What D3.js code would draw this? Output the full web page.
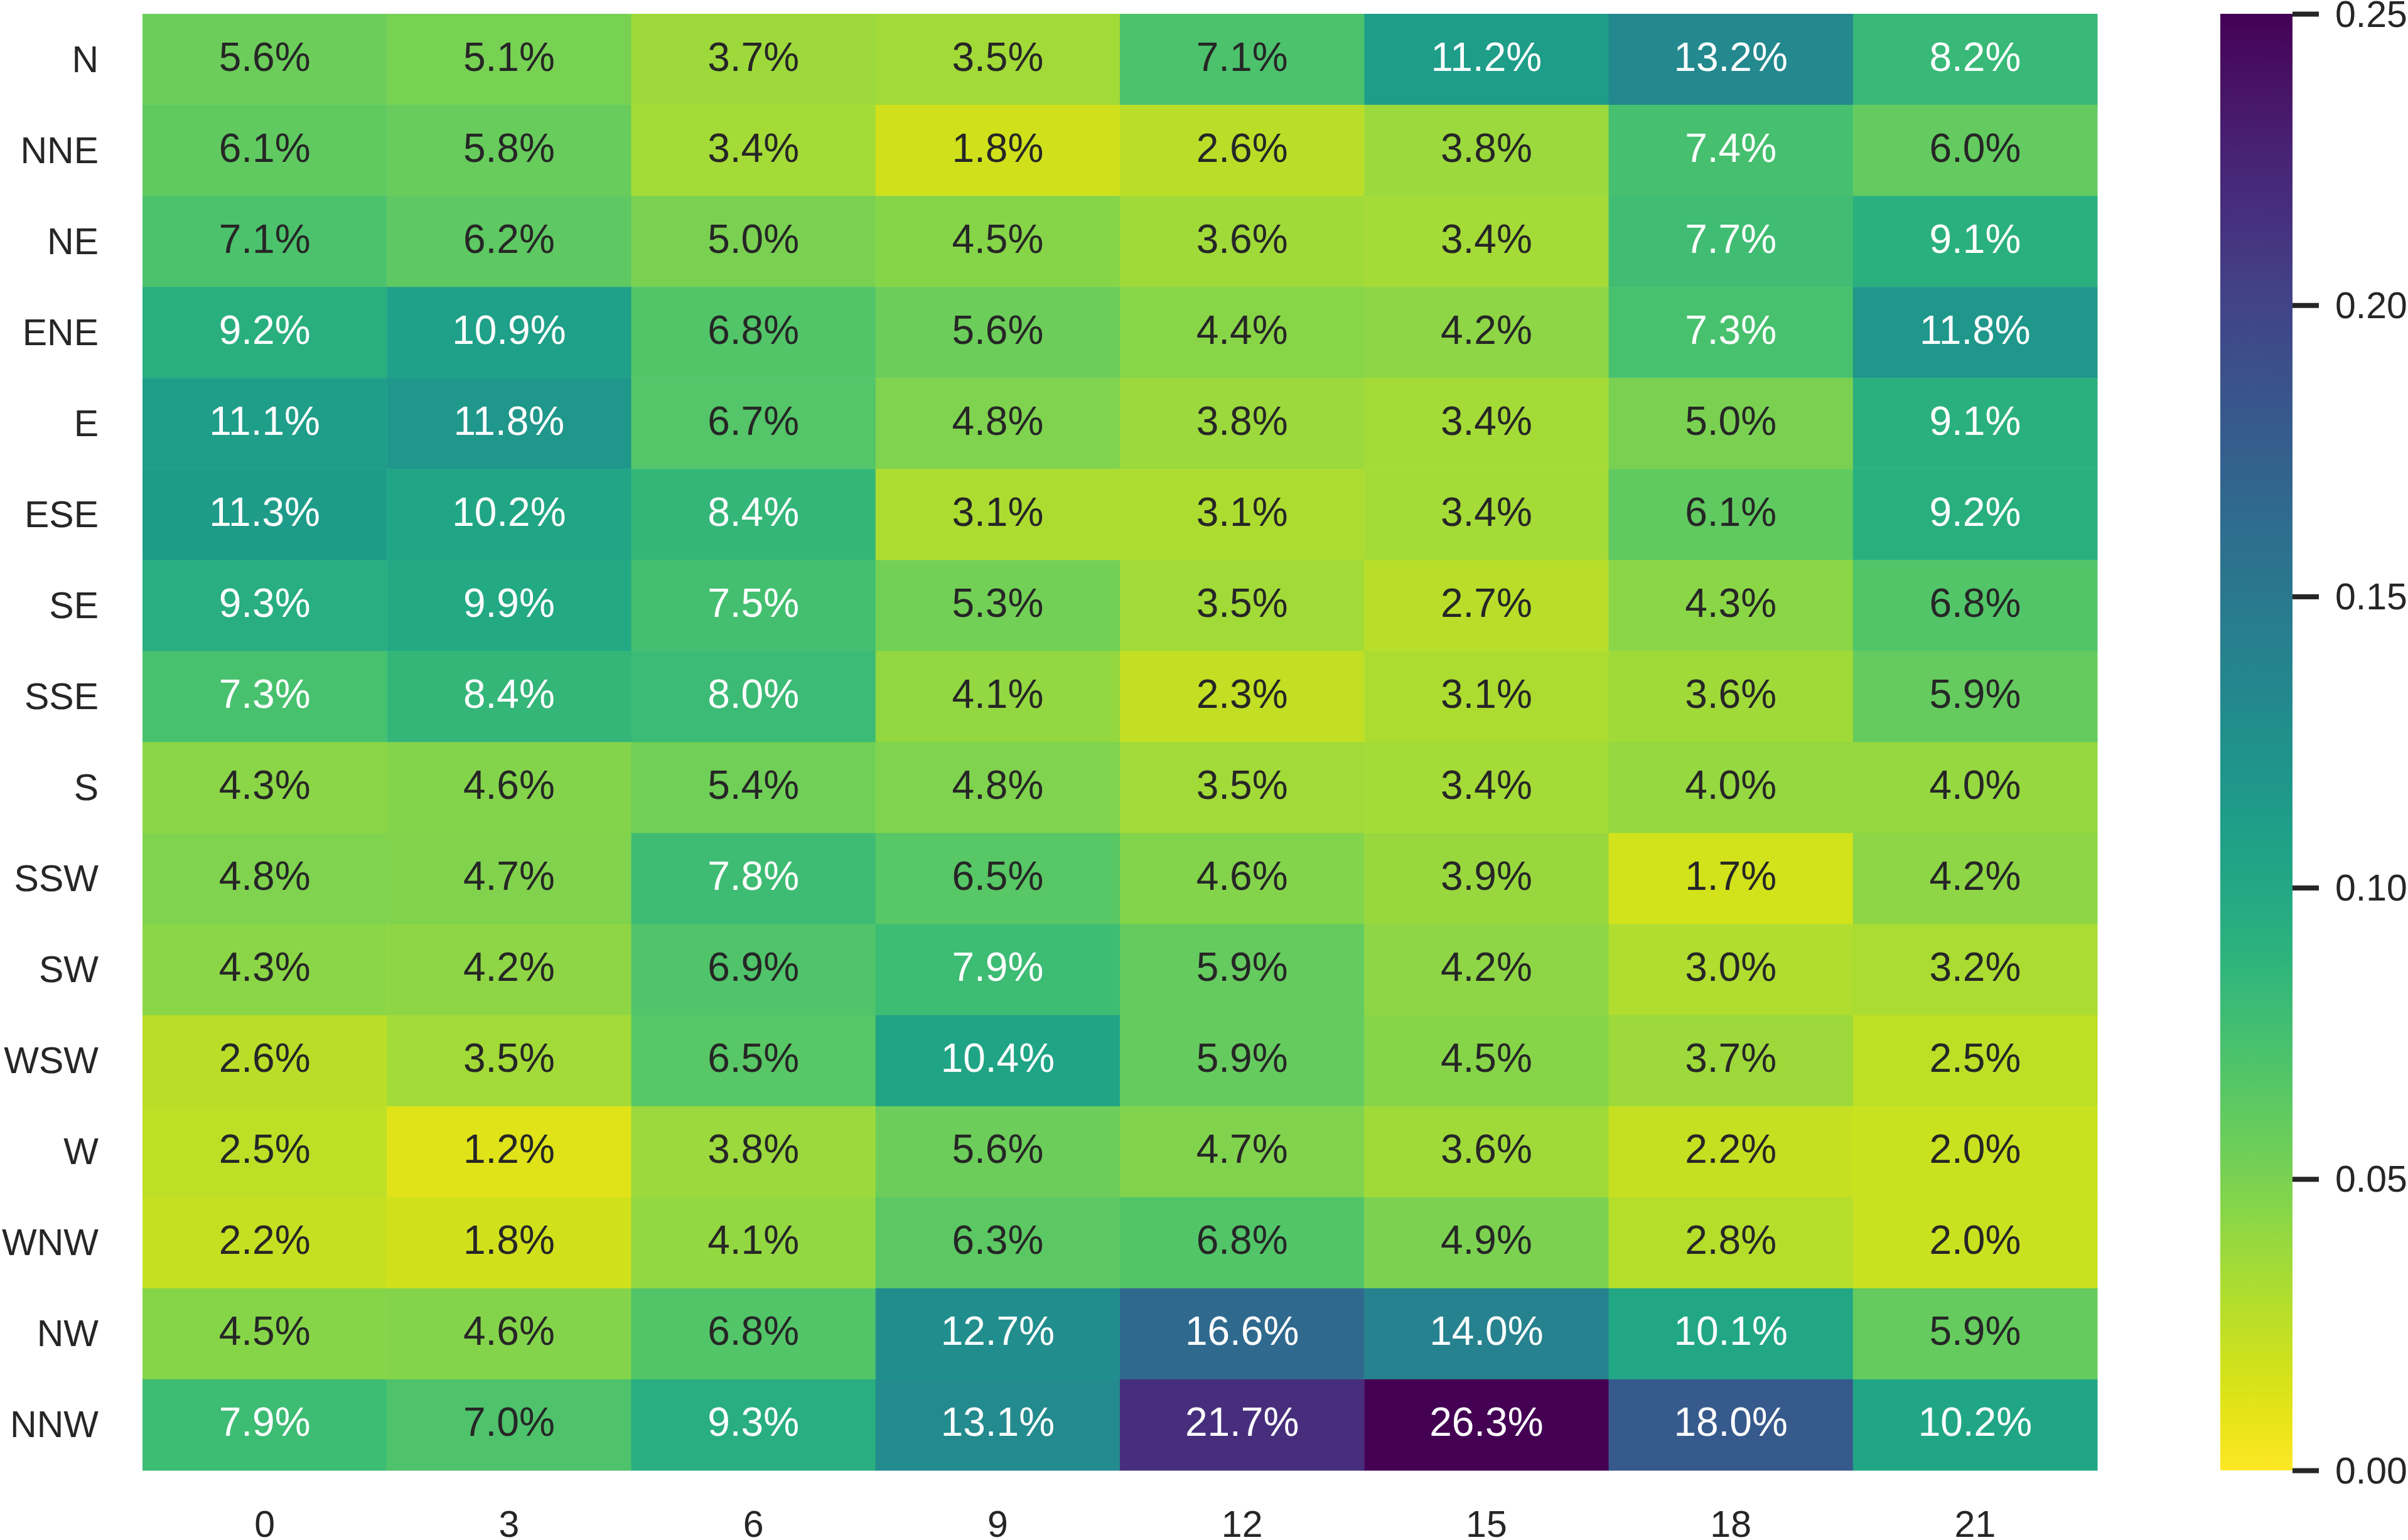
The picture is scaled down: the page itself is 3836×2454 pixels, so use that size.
<!DOCTYPE html>
<html>
<head>
<meta charset="utf-8">
<script src="https://cdn.jsdelivr.net/npm/d3@7"></script>
<style>
  html, body { margin: 0; padding: 0; background: #fff; }
  svg { display: block; font-family: "Liberation Sans", Arial, sans-serif; }
</style>
</head>
<body>
<svg id="chart" width="3836" height="2454"></svg>
<script>
// ---- data ----
const hours = ["0", "3", "6", "9", "12", "15", "18", "21"];
const directions = ["N", "NNE", "NE", "ENE", "E", "ESE", "SE", "SSE",
                    "S", "SSW", "SW", "WSW", "W", "WNW", "NW", "NNW"];
// percent values, one array per direction row, columns follow `hours`
const rowN   = [5.6, 5.1, 3.7, 3.5, 7.1, 11.2, 13.2, 8.2];
const rowNNE = [6.1, 5.8, 3.4, 1.8, 2.6, 3.8, 7.4, 6.0];
const rowNE  = [7.1, 6.2, 5.0, 4.5, 3.6, 3.4, 7.7, 9.1];
const rowENE = [9.2, 10.9, 6.8, 5.6, 4.4, 4.2, 7.3, 11.8];
const rowE   = [11.1, 11.8, 6.7, 4.8, 3.8, 3.4, 5.0, 9.1];
const rowESE = [11.3, 10.2, 8.4, 3.1, 3.1, 3.4, 6.1, 9.2];
const rowSE  = [9.3, 9.9, 7.5, 5.3, 3.5, 2.7, 4.3, 6.8];
const rowSSE = [7.3, 8.4, 8.0, 4.1, 2.3, 3.1, 3.6, 5.9];
const rowS   = [4.3, 4.6, 5.4, 4.8, 3.5, 3.4, 4.0, 4.0];
const rowSSW = [4.8, 4.7, 7.8, 6.5, 4.6, 3.9, 1.7, 4.2];
const rowSW  = [4.3, 4.2, 6.9, 7.9, 5.9, 4.2, 3.0, 3.2];
const rowWSW = [2.6, 3.5, 6.5, 10.4, 5.9, 4.5, 3.7, 2.5];
const rowW   = [2.5, 1.2, 3.8, 5.6, 4.7, 3.6, 2.2, 2.0];
const rowWNW = [2.2, 1.8, 4.1, 6.3, 6.8, 4.9, 2.8, 2.0];
const rowNW  = [4.5, 4.6, 6.8, 12.7, 16.6, 14.0, 10.1, 5.9];
const rowNNW = [7.9, 7.0, 9.3, 13.1, 21.7, 26.3, 18.0, 10.2];
const rows = [rowN, rowNNE, rowNE, rowENE, rowE, rowESE, rowSE, rowSSE,
              rowS, rowSSW, rowSW, rowWSW, rowW, rowWNW, rowNW, rowNNW];
const colorbarTicks = [0, 0.05, 0.10, 0.15, 0.20, 0.25];
const vmin = 0, vmax = 0.25;

// ---- layout ----
const plot = { left: 227, right: 3341, top: 22, bottom: 2343 };
const cbar = { left: 3537, right: 3652 };
const annotSize = 64, tickSize = 59;
const textDark = "#262626";

const svg = d3.select("#chart");

const x = d3.scaleBand().domain(hours).range([plot.left, plot.right]).padding(0);
const y = d3.scaleBand().domain(directions).range([plot.top, plot.bottom]).padding(0);
const color = d3.scaleSequential(t => d3.interpolateViridis(1 - t)).domain([vmin, vmax]).clamp(true);

const cells = [];
directions.forEach((dname, i) => {
  hours.forEach((h, j) => {
    cells.push({ dir: dname, hour: h, value: rows[i][j] / 100 });
  });
});

function luminance(c) {
  const rgb = d3.rgb(c);
  const lin = v => { v /= 255; return v <= 0.03928 ? v / 12.92 : Math.pow((v + 0.055) / 1.055, 2.4); };
  return 0.2126 * lin(rgb.r) + 0.7152 * lin(rgb.g) + 0.0722 * lin(rgb.b);
}

const g = svg.append("g");
g.selectAll("rect.cell")
  .data(cells)
  .join("rect")
  .attr("class", "cell")
  .attr("x", d => x(d.hour))
  .attr("y", d => y(d.dir))
  .attr("width", x.bandwidth() + 0.5)
  .attr("height", y.bandwidth() + 0.5)
  .attr("fill", d => color(d.value));

const fmt = d3.format(".1%");
g.selectAll("text.annot")
  .data(cells)
  .join("text")
  .attr("class", "annot")
  .attr("x", d => x(d.hour) + x.bandwidth() / 2)
  .attr("y", d => y(d.dir) + y.bandwidth() / 2 + 18)
  .attr("text-anchor", "middle")
  .attr("font-size", annotSize)
  .attr("fill", d => luminance(color(d.value)) > 0.408 ? textDark : "#ffffff")
  .text(d => fmt(d.value));

// y axis labels
const yAxis = d3.axisLeft(y).tickSize(0).tickPadding(70);
const yg = svg.append("g").attr("transform", `translate(${plot.left},0)`).call(yAxis);
yg.select(".domain").remove();
yg.selectAll("text")
  .attr("font-size", tickSize)
  .attr("font-family", "Liberation Sans, Arial, sans-serif")
  .attr("fill", textDark)
  .attr("dy", null)
  .attr("dominant-baseline", "central")
  .attr("y", 0);

// x axis labels
const xAxis = d3.axisBottom(x).tickSize(0).tickPadding(0);
const xg = svg.append("g").attr("transform", `translate(0,${plot.bottom})`).call(xAxis);
xg.select(".domain").remove();
xg.selectAll("text")
  .attr("font-size", tickSize)
  .attr("font-family", "Liberation Sans, Arial, sans-serif")
  .attr("fill", textDark)
  .attr("dy", null)
  .attr("y", 106);

// colorbar
const cy = d3.scaleLinear().domain([vmin, vmax]).range([plot.bottom, plot.top]);
const defs = svg.append("defs");
const grad = defs.append("linearGradient")
  .attr("id", "cbgrad")
  .attr("x1", 0).attr("y1", 1).attr("x2", 0).attr("y2", 0);
d3.range(0, 1.0001, 0.02).forEach(t => {
  grad.append("stop")
    .attr("offset", t)
    .attr("stop-color", color(vmin + t * (vmax - vmin)));
});
svg.append("rect")
  .attr("x", cbar.left)
  .attr("y", plot.top)
  .attr("width", cbar.right - cbar.left)
  .attr("height", plot.bottom - plot.top)
  .attr("fill", "url(#cbgrad)");

const cAxis = d3.axisRight(cy).tickValues(colorbarTicks).tickFormat(d3.format(".2f"))
  .tickSize(42).tickPadding(26);
const cg = svg.append("g").attr("transform", `translate(${cbar.right},0)`).call(cAxis);
cg.select(".domain").remove();
cg.selectAll(".tick line").attr("stroke", textDark).attr("stroke-width", 8);
cg.selectAll("text")
  .attr("font-size", tickSize)
  .attr("font-family", "Liberation Sans, Arial, sans-serif")
  .attr("fill", textDark)
  .attr("dy", null)
  .attr("dominant-baseline", "central");
</script>
</body>
</html>
